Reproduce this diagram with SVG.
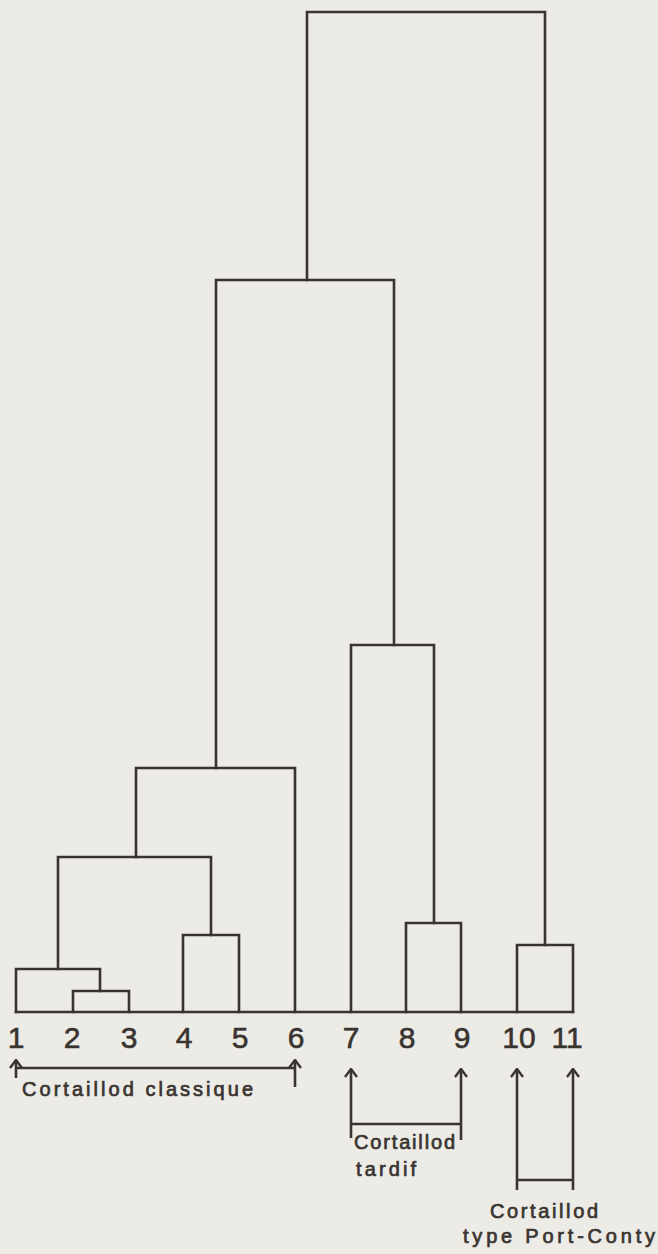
<svg xmlns="http://www.w3.org/2000/svg" width="658" height="1254" viewBox="0 0 658 1254">
<style>
.ln{fill:none;stroke:#3a3431;stroke-width:2.6;stroke-linecap:square;stroke-linejoin:miter}
.ar{fill:none;stroke:#3a3431;stroke-width:2.6}
.num{font-family:"Liberation Sans",Arial,sans-serif;font-size:30px;fill:#3a3431;stroke:#3a3431;stroke-width:0.6;text-anchor:middle}
.lab{font-family:"Liberation Sans",Arial,sans-serif;font-size:20px;fill:#3a3431;stroke:#3a3431;stroke-width:0.7}
</style>
<defs>
<marker id="chev" viewBox="0 0 10 14" refX="9" refY="7" markerWidth="10" markerHeight="14" markerUnits="userSpaceOnUse" orient="auto">
<path d="M1,1 L9,7 L1,13" fill="none" stroke="#3a3431" stroke-width="2.4"/>
</marker>
</defs>
<rect width="658" height="1254" fill="#ecebe5"/>
<g id="connectors">
<path class="ln" d="M16,1012 H573"/>
<path class="ln" d="M16,1012 V969 H100 V991"/>
<path class="ln" d="M73,1012 V991 H129 V1012"/>
<path class="ln" d="M58,969 V857 H211 V935"/>
<path class="ln" d="M183,1012 V935 H239 V1012"/>
<path class="ln" d="M136,857 V768 H295 V1012"/>
<path class="ln" d="M216,768 V280 H394 V645"/>
<path class="ln" d="M351,1012 V645 H434 V923"/>
<path class="ln" d="M406,1012 V923 H461 V1012"/>
<path class="ln" d="M307,280 V12 H545 V945"/>
<path class="ln" d="M517,1012 V945 H573 V1012"/>
</g>
<g id="leaves">
<g id="leaf-1"><text class="num" x="16" y="1048">1</text></g>
<g id="leaf-2"><text class="num" x="72" y="1048">2</text></g>
<g id="leaf-3"><text class="num" x="129" y="1048">3</text></g>
<g id="leaf-4"><text class="num" x="184" y="1048">4</text></g>
<g id="leaf-5"><text class="num" x="240" y="1048">5</text></g>
<g id="leaf-6"><text class="num" x="296" y="1048">6</text></g>
<g id="leaf-7"><text class="num" x="351" y="1048">7</text></g>
<g id="leaf-8"><text class="num" x="407" y="1048">8</text></g>
<g id="leaf-9"><text class="num" x="462" y="1048">9</text></g>
<g id="leaf-10"><text class="num" x="519" y="1048">10</text></g>
<g id="leaf-11"><text class="num" x="567" y="1048">11</text></g>
</g>
<g id="group-classique">
<path class="ar" d="M16,1078 V1060" marker-end="url(#chev)"/>
<path class="ar" d="M295,1087 V1060" marker-end="url(#chev)"/>
<path class="ar" d="M16,1068 H295"/>
<text class="lab" x="22" y="1096" textLength="231" lengthAdjust="spacing">Cortaillod classique</text>
</g>
<g id="group-tardif">
<path class="ar" d="M351,1138 V1069" marker-end="url(#chev)"/>
<path class="ar" d="M461,1140 V1069" marker-end="url(#chev)"/>
<path class="ar" d="M351,1124 H461"/>
<text class="lab" x="354" y="1149" textLength="101" lengthAdjust="spacing">Cortaillod</text>
<text class="lab" x="356" y="1176" textLength="60" lengthAdjust="spacing">tardif</text>
</g>
<g id="group-portconty">
<path class="ar" d="M517,1190 V1069" marker-end="url(#chev)"/>
<path class="ar" d="M573,1190 V1069" marker-end="url(#chev)"/>
<path class="ar" d="M517,1180 H573"/>
<text class="lab" x="490" y="1218" textLength="108" lengthAdjust="spacing">Cortaillod</text>
<text class="lab" x="463" y="1243" textLength="192" lengthAdjust="spacing">type Port-Conty</text>
</g>
</svg>
